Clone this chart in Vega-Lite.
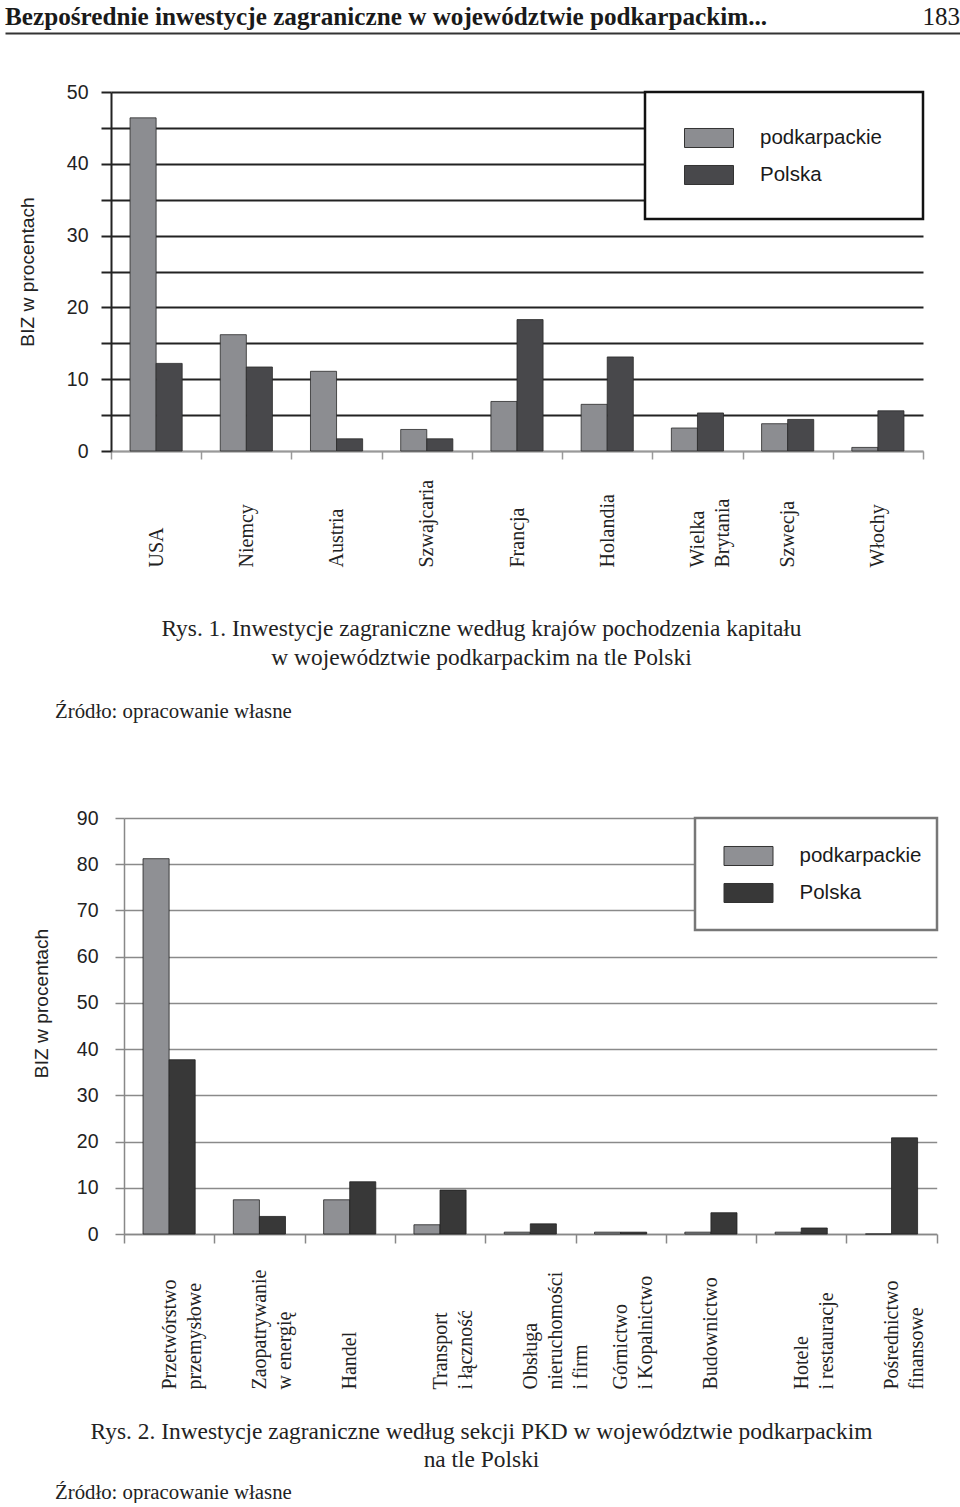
{
  "$schema": "https://vega.github.io/schema/vega-lite/v6.json",
  "background": "white",
  "padding": {"left": 5, "top": 0, "right": 0, "bottom": 0},
  "config": {"view": {"stroke": null}, "legend": {"strokeWidth": 2.5}},
  "bounds": "flush",
  "spacing": 0,
  "resolve": {"scale": {"color": "independent", "x": "independent", "y": "independent"}, "legend": {"color": "independent"}},
  "datasets": {
    "naglowek": [
      {"strona": "lewa", "tekst": "Bezpośrednie inwestycje zagraniczne w województwie podkarpackim..."},
      {"strona": "prawa", "tekst": "183"}
    ],
    "kraje": [
      {"kraj": "USA", "seria": "podkarpackie", "wartosc": 46.4},
      {"kraj": "USA", "seria": "Polska", "wartosc": 12.2},
      {"kraj": "Niemcy", "seria": "podkarpackie", "wartosc": 16.2},
      {"kraj": "Niemcy", "seria": "Polska", "wartosc": 11.7},
      {"kraj": "Austria", "seria": "podkarpackie", "wartosc": 11.1},
      {"kraj": "Austria", "seria": "Polska", "wartosc": 1.7},
      {"kraj": "Szwajcaria", "seria": "podkarpackie", "wartosc": 3.0},
      {"kraj": "Szwajcaria", "seria": "Polska", "wartosc": 1.7},
      {"kraj": "Francja", "seria": "podkarpackie", "wartosc": 6.9},
      {"kraj": "Francja", "seria": "Polska", "wartosc": 18.3},
      {"kraj": "Holandia", "seria": "podkarpackie", "wartosc": 6.5},
      {"kraj": "Holandia", "seria": "Polska", "wartosc": 13.1},
      {"kraj": "Wielka\nBrytania", "seria": "podkarpackie", "wartosc": 3.2},
      {"kraj": "Wielka\nBrytania", "seria": "Polska", "wartosc": 5.3},
      {"kraj": "Szwecja", "seria": "podkarpackie", "wartosc": 3.8},
      {"kraj": "Szwecja", "seria": "Polska", "wartosc": 4.4},
      {"kraj": "Włochy", "seria": "podkarpackie", "wartosc": 0.5},
      {"kraj": "Włochy", "seria": "Polska", "wartosc": 5.6}
    ],
    "sekcje": [
      {"sekcja": "Przetwórstwo\nprzemysłowe", "seria": "podkarpackie", "wartosc": 81.2},
      {"sekcja": "Przetwórstwo\nprzemysłowe", "seria": "Polska", "wartosc": 37.7},
      {"sekcja": "Zaopatrywanie\nw energię", "seria": "podkarpackie", "wartosc": 7.4},
      {"sekcja": "Zaopatrywanie\nw energię", "seria": "Polska", "wartosc": 3.8},
      {"sekcja": "Handel", "seria": "podkarpackie", "wartosc": 7.4},
      {"sekcja": "Handel", "seria": "Polska", "wartosc": 11.3},
      {"sekcja": "Transport\ni łączność", "seria": "podkarpackie", "wartosc": 2.0},
      {"sekcja": "Transport\ni łączność", "seria": "Polska", "wartosc": 9.5},
      {"sekcja": "Obsługa\nnieruchomości\ni firm", "seria": "podkarpackie", "wartosc": 0.4},
      {"sekcja": "Obsługa\nnieruchomości\ni firm", "seria": "Polska", "wartosc": 2.2},
      {"sekcja": "Górnictwo\ni Kopalnictwo", "seria": "podkarpackie", "wartosc": 0.4},
      {"sekcja": "Górnictwo\ni Kopalnictwo", "seria": "Polska", "wartosc": 0.4},
      {"sekcja": "Budownictwo", "seria": "podkarpackie", "wartosc": 0.4},
      {"sekcja": "Budownictwo", "seria": "Polska", "wartosc": 4.6},
      {"sekcja": "Hotele\ni restauracje", "seria": "podkarpackie", "wartosc": 0.4},
      {"sekcja": "Hotele\ni restauracje", "seria": "Polska", "wartosc": 1.3},
      {"sekcja": "Pośrednictwo\nfinansowe", "seria": "podkarpackie", "wartosc": 0},
      {"sekcja": "Pośrednictwo\nfinansowe", "seria": "Polska", "wartosc": 20.8}
    ],
    "podpis1": [
      {"wiersz": 1, "tekst": "Rys. 1. Inwestycje zagraniczne według krajów pochodzenia kapitału"},
      {"wiersz": 2, "tekst": "w województwie podkarpackim na tle Polski"}
    ],
    "podpis2": [
      {"wiersz": 1, "tekst": "Rys. 2. Inwestycje zagraniczne według sekcji PKD w województwie podkarpackim"},
      {"wiersz": 2, "tekst": "na tle Polski"}
    ],
    "pusty": [{}]
  },
  "vconcat": [
    {
      "width": 955,
      "height": 33,
      "data": {"name": "naglowek"},
      "encoding": {
        "x": {"field": "strona", "type": "nominal", "scale": {"type": "point", "padding": 0, "domain": ["lewa", "prawa"]},
          "axis": {"title": null, "labels": false, "ticks": false, "grid": false, "domain": true, "domainColor": "#333", "domainWidth": 2}},
        "text": {"field": "tekst"}
      },
      "layer": [
        {"transform": [{"filter": "datum.strona === 'lewa'"}],
         "mark": {"type": "text", "align": "left", "baseline": "middle", "font": "Liberation Serif", "fontSize": 25.2, "fontWeight": "bold", "color": "#1a1a1a"}},
        {"transform": [{"filter": "datum.strona === 'prawa'"}],
         "mark": {"type": "text", "align": "right", "baseline": "middle", "font": "Liberation Serif", "fontSize": 25, "fontWeight": "normal", "color": "#1a1a1a"}}
      ]
    },
    {"width": 955, "height": 58.7, "data": {"name": "pusty"}, "mark": {"type": "point", "opacity": 0}},
    {
      "bounds": "flush",
      "spacing": 0,
      "resolve": {"scale": {"color": "independent"}, "legend": {"color": "independent"}},
      "hconcat": [
        {"width": 105.7, "height": 1, "data": {"name": "pusty"}, "mark": {"type": "point", "opacity": 0}},
        {
          "width": 812,
          "height": 359,
          "data": {"name": "kraje"},
          "mark": {"type": "bar", "stroke": "#2a2a2a", "strokeWidth": 0.8},
          "encoding": {
            "x": {"field": "kraj", "type": "nominal", "sort": null, "scale": {"paddingInner": 0, "paddingOuter": 0},
              "axis": {"title": null, "labelAngle": -90, "labelAlign": "left", "labelBaseline": "middle", "labelPadding": 108,
                "labelFont": "Liberation Serif", "labelFontSize": 20, "labelColor": "#222", "labelLineHeight": 25,
                "labelExpr": "split(datum.label, '\\n')", "labelOverlap": false, "labelBound": false, "labelLimit": 300,
                "tickBand": "extent", "tickSize": 8, "tickColor": "#999", "tickWidth": 1.5, "domainColor": "#999", "domainWidth": 1.5}},
            "xOffset": {"field": "seria", "type": "nominal", "sort": ["podkarpackie", "Polska"], "scale": {"paddingOuter": 0.73, "paddingInner": 0}},
            "y": {"field": "wartosc", "type": "quantitative", "scale": {"domain": [0, 50], "nice": false},
              "axis": {"title": "BIZ w procentach", "values": [0, 5, 10, 15, 20, 25, 30, 35, 40, 45, 50],
                "labelExpr": "datum.value % 10 === 0 ? datum.label : ''",
                "labelFont": "Liberation Sans Narrow, Liberation Sans, sans-serif", "labelFontSize": 19.5, "labelColor": "#222", "labelPadding": 13,
                "domainColor": "#222", "domainWidth": 2, "tickColor": "#222", "tickWidth": 2, "tickSize": 10,
                "gridColor": {"condition": {"test": "datum.value === 0", "value": "#999"}, "value": "#222"}, "gridWidth": 2,
                "titleFont": "Liberation Sans Narrow, Liberation Sans, sans-serif", "titleFontSize": 19.2, "titleFontWeight": "normal", "titleColor": "#222", "titlePadding": 29}},
            "color": {"field": "seria", "type": "nominal", "sort": ["podkarpackie", "Polska"],
              "scale": {"domain": ["podkarpackie", "Polska"], "range": ["#8c8d91", "#48484b"]},
              "legend": {"title": ["\u00a0", "\u00a0"], "titleOrient": "right", "titleAnchor": "start", "titleBaseline": "top",
                "titlePadding": 20, "titleFontSize": 1, "titleLineHeight": 84,
                "orient": "top-right", "offset": 0, "padding": 21, "symbolOffset": 18,
                "strokeColor": "#111", "fillColor": "white",
                "symbolType": "M-1,-0.388H1V0.388H-1Z", "symbolSize": 2401, "symbolStrokeColor": "#333", "symbolStrokeWidth": 1,
                "labelFont": "Liberation Sans Narrow, Liberation Sans, sans-serif", "labelFontSize": 20.5, "labelColor": "#1a1a1a",
                "labelOffset": 26, "rowPadding": -15, "labelLimit": 300}}
          }
        }
      ]
    },
    {"width": 955, "height": 521.3, "data": {"name": "pusty"}, "mark": {"type": "point", "opacity": 0}},
    {
      "bounds": "flush",
      "spacing": 0,
      "hconcat": [
        {"width": 50, "height": 1, "data": {"name": "pusty"}, "mark": {"type": "point", "opacity": 0}},
        {
          "width": 853,
          "height": 58,
          "data": {"name": "podpis1"},
          "mark": {"type": "text", "font": "Liberation Serif", "fontSize": 23.4, "color": "#222", "baseline": "middle"},
          "encoding": {
            "y": {"field": "wiersz", "type": "ordinal", "scale": {"type": "point", "padding": 0.5}, "axis": null},
            "text": {"field": "tekst"}
          },
          "title": {"text": "Źródło: opracowanie własne", "orient": "bottom", "anchor": "start", "frame": "group",
            "font": "Liberation Serif", "fontSize": 20.8, "fontWeight": "normal", "color": "#222", "offset": 30}
        }
      ]
    },
    {"width": 955, "height": 203.7, "data": {"name": "pusty"}, "mark": {"type": "point", "opacity": 0}},
    {
      "bounds": "flush",
      "spacing": 0,
      "resolve": {"scale": {"color": "independent"}, "legend": {"color": "independent"}},
      "hconcat": [
        {"width": 118.3, "height": 1, "data": {"name": "pusty"}, "mark": {"type": "point", "opacity": 0}},
        {
          "width": 812.7,
          "height": 416,
          "data": {"name": "sekcje"},
          "mark": {"type": "bar", "stroke": "#222", "strokeWidth": 0.8},
          "encoding": {
            "x": {"field": "sekcja", "type": "nominal", "sort": null, "scale": {"paddingInner": 0, "paddingOuter": 0},
              "axis": {"title": null, "labelAngle": -90, "labelAlign": "left", "labelBaseline": "middle", "labelPadding": 146,
                "labelFont": "Liberation Serif", "labelFontSize": 20, "labelColor": "#222", "labelLineHeight": 25,
                "labelExpr": "split(datum.label, '\\n')", "labelOverlap": false, "labelBound": false, "labelLimit": 300,
                "tickBand": "extent", "tickSize": 9, "tickColor": "#888", "tickWidth": 1.5, "domainColor": "#888", "domainWidth": 1.5}},
            "xOffset": {"field": "seria", "type": "nominal", "sort": ["podkarpackie", "Polska"], "scale": {"paddingOuter": 0.74, "paddingInner": 0}},
            "y": {"field": "wartosc", "type": "quantitative", "scale": {"domain": [0, 90], "nice": false},
              "axis": {"title": "BIZ w procentach", "values": [0, 10, 20, 30, 40, 50, 60, 70, 80, 90], "titleY": 185,
                "labelFont": "Liberation Sans Narrow, Liberation Sans, sans-serif", "labelFontSize": 19.5, "labelColor": "#222", "labelPadding": 17,
                "domainColor": "#888", "domainWidth": 1.5, "tickColor": "#888", "tickWidth": 1.5, "tickSize": 9,
                "gridColor": "#8a8a8a", "gridWidth": 1.5,
                "titleFont": "Liberation Sans Narrow, Liberation Sans, sans-serif", "titleFontSize": 19.2, "titleFontWeight": "normal", "titleColor": "#222", "titlePadding": 25}},
            "color": {"field": "seria", "type": "nominal", "sort": ["podkarpackie", "Polska"],
              "scale": {"domain": ["podkarpackie", "Polska"], "range": ["#8f9094", "#383838"]},
              "legend": {"title": ["\u00a0", "\u00a0"], "titleOrient": "right", "titleAnchor": "start", "titleBaseline": "top",
                "titlePadding": 3, "titleFontSize": 1, "titleLineHeight": 84.6,
                "orient": "top-right", "offset": 0, "padding": 13, "symbolOffset": 15.5,
                "strokeColor": "#777", "fillColor": "white",
                "symbolType": "M-1,-0.388H1V0.388H-1Z", "symbolSize": 2401, "symbolStrokeColor": "#333", "symbolStrokeWidth": 1,
                "labelFont": "Liberation Sans Narrow, Liberation Sans, sans-serif", "labelFontSize": 20.5, "labelColor": "#1a1a1a",
                "labelOffset": 26, "rowPadding": -14.7, "labelLimit": 300}}
          }
        }
      ]
    },
    {"width": 955, "height": 599.3, "data": {"name": "pusty"}, "mark": {"type": "point", "opacity": 0}},
    {
      "bounds": "flush",
      "spacing": 0,
      "hconcat": [
        {"width": 50, "height": 1, "data": {"name": "pusty"}, "mark": {"type": "point", "opacity": 0}},
        {
          "width": 853,
          "height": 56,
          "data": {"name": "podpis2"},
          "mark": {"type": "text", "font": "Liberation Serif", "fontSize": 23.4, "color": "#222", "baseline": "middle"},
          "encoding": {
            "y": {"field": "wiersz", "type": "ordinal", "scale": {"type": "point", "padding": 0.5}, "axis": null},
            "text": {"field": "tekst"}
          },
          "title": {"text": "Źródło: opracowanie własne", "orient": "bottom", "anchor": "start", "frame": "group",
            "font": "Liberation Serif", "fontSize": 20.8, "fontWeight": "normal", "color": "#222", "offset": 9}
        }
      ]
    }
  ]
}
